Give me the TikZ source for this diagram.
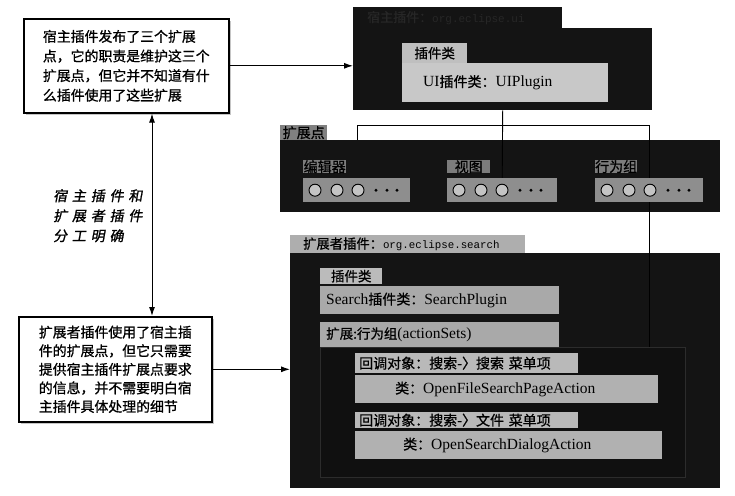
\documentclass[tikz,border=0pt]{standalone}
\usepackage{fontspec}
\setmainfont{Liberation Serif}
\newfontfamily\cjk{Noto Sans CJK SC}[FakeBold=0.9]
\newfontfamily\cjkhand{Noto Sans CJK SC}[FakeSlant=0.18,FakeBold=1.2]
\newfontfamily\monof{Liberation Mono}
\usetikzlibrary{arrows.meta,shadows}
\pgfdeclarelayer{bg}
\pgfdeclarelayer{mid}
\pgfsetlayers{bg,mid,main}
\definecolor{darkbody}{HTML}{141414}
\definecolor{hosttitle}{HTML}{272727}
\definecolor{hclsfill}{HTML}{BFBFBF}
\definecolor{uifill}{HTML}{C8C8C8}
\definecolor{eptabfill}{HTML}{808080}
\definecolor{eplabfill}{HTML}{7C7C7C}
\definecolor{epstripfill}{HTML}{8E8E8E}
\definecolor{circfill}{HTML}{C4C4C4}
\definecolor{xtabfill}{HTML}{AEAEAE}
\definecolor{xclsfill}{HTML}{BBBBBB}
\definecolor{spfill}{HTML}{A9A9A9}
\definecolor{cblabfill}{HTML}{B9B9B9}
\definecolor{cbfill}{HTML}{B1B1B1}
\definecolor{innerfill}{HTML}{101010}
\definecolor{innerdraw}{HTML}{2C2C2C}
\newcommand\C[1]{{\cjk #1}}
\newcommand\fs[1]{\fontsize{#1}{#1}\selectfont}
\newcommand\hk{\kern4.8pt}
% name x1 y1 x2 y2 style pad text
\newcommand\bx[8]{%
  \pgfmathsetmacro\bxw{#4-#2-2*#7}%
  \pgfmathsetmacro\bxh{#5-#3}%
  \node[anchor=north west, inner xsep=#7pt, inner ysep=0pt, align=left,
        text width=\bxw pt, minimum height=\bxh pt, #6] (#1) at (#2,#3) {#8};}
\newcommand\ptrow[1]{%
  \foreach \o in {12,34,55} {\draw[pcirc] ([xshift=\o pt]#1.west) circle (6pt);}
  \foreach \o in {73,84,94} {\fill ([xshift=\o pt]#1.west) circle (1.6pt);}}
\tikzset{
  note/.style={draw=black, line width=1.6pt, fill=white, anchor=north west,
    align=left, inner sep=0pt,
    drop shadow={shadow xshift=2.5pt, shadow yshift=-2.5pt, fill=black!45}},
  arr/.style={-{Latex[length=9pt,width=6pt]}, line width=1pt},
  darr/.style={{Latex[length=9pt,width=6pt]}-{Latex[length=9pt,width=6pt]}, line width=1pt},
  conn/.style={line width=0.9pt, draw=black},
  pcirc/.style={fill=circfill, draw=black, line width=0.9pt},
  ctr/.style={align=center},
}
\begin{document}
\begin{tikzpicture}[x=1pt,y=-1pt]
\useasboundingbox (0,0) rectangle (735,495);

\begin{pgfonlayer}{bg}
  \fill[white] (0,0) rectangle (735,495);
  % host plugin
  \bx{hosttab}{353}{7}{562}{28}{fill=darkbody, text=hosttitle, font=\fs{13}}{14}{\C{宿主插件：}{\monof\fs{11}org.eclipse.ui}}
  \bx{host}{353}{28}{652}{110}{fill=darkbody}{0}{}
  % extension points
  \bx{eptab}{280}{125}{327}{140}{fill=eptabfill, ctr, font=\cjk\fs{14}}{0}{扩展点}
  \bx{ep}{280}{140}{720}{212}{fill=darkbody}{0}{}
  % extender plugin
  \bx{xtab}{290}{235}{525}{253}{fill=xtabfill, font=\fs{13.3}}{13}{\C{扩展者插件：}{\monof\fs{10.8}org.eclipse.search}}
  \bx{xb}{290}{253}{720}{488}{fill=darkbody}{0}{}
  \bx{inner}{320}{347}{685}{477}{fill=innerfill, draw=innerdraw, line width=0.7pt}{0}{}
\end{pgfonlayer}

% host contents
\bx{hcls}{402}{43}{467}{63}{fill=hclsfill, ctr, font=\cjk\fs{13.5}}{0}{插件类}
\bx{ui}{402}{63}{608}{102}{fill=uifill, font=\fs{15.5}}{21}{UI\C{\fs{14}插件类：}UIPlugin}

% extension point contents
\bx{edl}{303}{160}{346}{173}{fill=eplabfill, ctr, font=\cjk\fs{14}}{0}{编辑器}
\bx{eds}{303}{178}{410}{202}{fill=epstripfill}{0}{}
\bx{vwl}{447}{160}{490}{173}{fill=eplabfill, ctr, font=\cjk\fs{14}}{0}{视图}
\bx{vws}{447}{178}{557}{202}{fill=epstripfill}{0}{}
\bx{agl}{595}{160}{637}{173}{fill=eplabfill, ctr, font=\cjk\fs{14}}{0}{行为组}
\bx{ags}{595}{178}{703}{202}{fill=epstripfill}{0}{}
\ptrow{eds}
\ptrow{vws}
\ptrow{ags}

% extender contents
\bx{xcls}{320}{268}{382}{284}{fill=xclsfill, ctr, font=\cjk\fs{13.5}}{0}{插件类}
\bx{sp}{320}{286}{559}{314}{fill=spfill, font=\fs{15.5}}{6}{Search\C{\fs{14}插件类：}SearchPlugin}
\bx{asx}{320}{322}{559}{347}{fill=spfill, font=\fs{15.5}}{6}{\C{\fs{13.5}扩展:行为组}(actionSets)}
\bx{cb1l}{355}{353}{578}{373}{fill=cblabfill, font=\cjk\fs{14}}{4}{回调对象：搜索-〉搜索 菜单项}
\bx{cb1}{355}{375}{658}{403}{fill=cbfill, font=\fs{15.5}}{40}{\C{\fs{14}类：}OpenFileSearchPageAction}
\bx{cb2l}{355}{412}{578}{428}{fill=cblabfill, font=\cjk\fs{14}}{4}{回调对象：搜索-〉文件 菜单项}
\bx{cb2}{355}{431}{662}{459}{fill=cbfill, font=\fs{15.5}}{48}{\C{\fs{14}类：}OpenSearchDialogAction}

% connectors between host, extension points and extender
\begin{pgfonlayer}{mid}
  \coordinate (hbL) at (357,125);
  \coordinate (hbR) at (649,125);
  \draw[conn] (host.south) -- (vws.north);
  \draw[conn] (ep.north -| hbL) -- (hbL) -- (hbR) -- (inner.north -| hbR);
\end{pgfonlayer}

% left notes
\node[note, minimum width=205pt, minimum height=94pt, font=\cjk\fontsize{13.9}{19.6}\selectfont] (tl) at (23,18)
  {宿主插件发布了三个扩展\\点，它的职责是维护这三个\\扩展点，但它并不知道有什\\么插件使用了这些扩展};
\node[note, minimum width=193pt, minimum height=105pt, font=\cjk\fontsize{13.9}{18.6}\selectfont] (bl) at (18,316)
  {扩展者插件使用了宿主插\\件的扩展点，但它只需要\\提供宿主插件扩展点要求\\的信息，并不需要明白宿\\主插件具体处理的细节};

\node[anchor=north west, align=left, inner sep=0pt, font=\cjkhand\fontsize{14}{20}\selectfont] (hw) at (53,189)
  {宿\hk 主\hk 插\hk 件\hk 和\\扩\hk 展\hk 者\hk 插\hk 件\\分\hk 工\hk 明\hk 确};

\coordinate (dx) at (152,0);
\draw[darr] (tl.south -| dx) -- (bl.north -| dx);
\draw[arr] (tl.east) -- (tl.east -| host.west);
\draw[arr] (bl.east) -- (bl.east -| xb.west);
\end{tikzpicture}
\end{document}
